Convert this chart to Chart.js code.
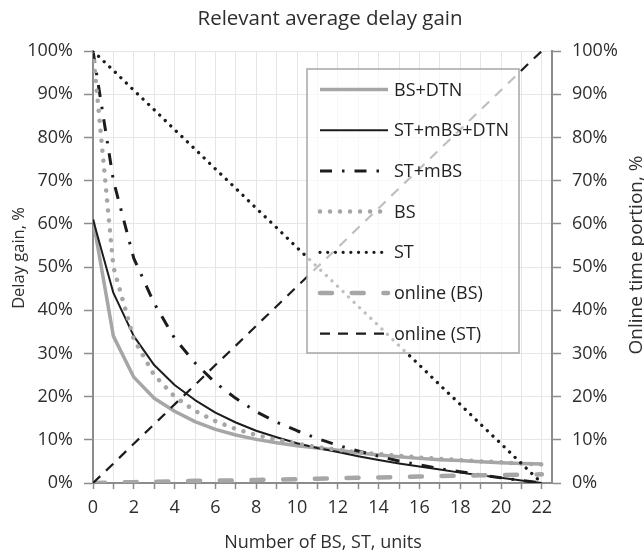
<!DOCTYPE html>
<html>
<head>
<meta charset="utf-8">
<script src="https://cdn.jsdelivr.net/npm/chart.js@4/dist/chart.umd.min.js"></script>
<style>
  html, body { margin: 0; padding: 0; background: #ffffff; }
  canvas { display: block; }
</style>
</head>
<body>
<canvas id="chart" width="644" height="556"></canvas>
<script>
// Number of base stations / stations on the horizontal axis
const units = [0, 1, 2, 3, 4, 5, 6, 7, 8, 9, 10, 11, 12, 13, 14, 15, 16, 17, 18, 19, 20, 21, 22];
const xTickLabels = ['0', '2', '4', '6', '8', '10', '12', '14', '16', '18', '20', '22'];
const yTicks = [0, 10, 20, 30, 40, 50, 60, 70, 80, 90, 100];

const seriesNames = ['BS+DTN', 'ST+mBS+DTN', 'ST+mBS', 'BS', 'ST', 'online (BS)', 'online (ST)'];

// Delay gain, %
const bsDtn    = [61, 34, 24.5, 19.6, 16.6, 14.2, 12.4, 11.1, 10.1, 9.3, 8.6, 8.1, 7.6, 7.0, 6.5, 6.1, 5.7, 5.4, 5.2, 4.9, 4.7, 4.5, 4.4];
const stMbsDtn = [61, 44, 34, 27.3, 22.7, 19.2, 16.3, 14.0, 12.1, 10.6, 9.2, 8.1, 7.2, 6.2, 5.3, 4.5, 3.8, 3.1, 2.4, 1.8, 1.2, 0.6, 0];
const stMbs    = [100, 70, 52, 41.6, 33.5, 27.8, 23.2, 19.6, 16.5, 14.1, 12.1, 10.3, 8.7, 7.4, 6.2, 5.1, 4.2, 3.3, 2.6, 1.9, 1.2, 0.6, 0];
const bs       = [100, 50, 33.3, 25, 20, 16.7, 14.3, 12.5, 11.1, 10, 9.1, 8.3, 7.7, 7.1, 6.7, 6.3, 5.9, 5.6, 5.3, 5.0, 4.8, 4.5, 4.3];
const st       = [100, 95.5, 90.9, 86.4, 81.8, 77.3, 72.7, 68.2, 63.6, 59.1, 54.5, 50, 45.5, 40.9, 36.4, 31.8, 27.3, 22.7, 18.2, 13.6, 9.1, 4.5, 0];

// Online time portion, %
const onlineBs = [0, 0.1, 0.2, 0.3, 0.4, 0.5, 0.55, 0.6, 0.7, 0.8, 0.9, 1.0, 1.1, 1.2, 1.3, 1.4, 1.5, 1.6, 1.7, 1.8, 1.85, 1.95, 2.0];
const onlineSt = [0, 4.5, 9.1, 13.6, 18.2, 22.7, 27.3, 31.8, 36.4, 40.9, 45.5, 50, 54.5, 59.1, 63.6, 68.2, 72.7, 77.3, 81.8, 86.4, 90.9, 95.5, 100];

const seriesValues = [bsDtn, stMbsDtn, stMbs, bs, st, onlineBs, onlineSt];
const rightAxisSeries = [false, false, false, false, false, true, true];

// Line styles
const GREY = '#a6a6a6';
const BLACK = '#1c1c1c';
const AXIS = '#8c8c8c';
const TEXT = '#2e2e2e';
const FONT = '"Open Sans", "DejaVu Sans", sans-serif';
const lineStyles = [
  { color: GREY,  width: 3.5, dash: [],                 cap: 'butt'  },
  { color: BLACK, width: 2,   dash: [],                 cap: 'butt'  },
  { color: BLACK, width: 3,   dash: [12, 10, 2.5, 10],  cap: 'butt'  },
  { color: GREY,  width: 4.5, dash: [0.01, 10],         cap: 'round' },
  { color: BLACK, width: 3.3, dash: [0.01, 7.7],        cap: 'round' },
  { color: GREY,  width: 4.5, dash: [12, 19.7],         cap: 'round' },
  { color: BLACK, width: 2.2, dash: [10, 8],            cap: 'butt'  }
];

const datasets = seriesValues.map((vals, i) => ({
  label: seriesNames[i],
  data: vals.map((v, j) => ({ x: units[j], y: v })),
  borderColor: lineStyles[i].color,
  borderWidth: lineStyles[i].width,
  borderDash: lineStyles[i].dash,
  borderCapStyle: lineStyles[i].cap,
  borderJoinStyle: 'round',
  pointRadius: 0,
  pointHoverRadius: 0,
  tension: 0,
  fill: false,
  yAxisID: rightAxisSeries[i] ? 'y2' : 'y',
  order: seriesValues.length - i
}));

// Legend box floating over the plot, semi-transparent white
const floatingLegend = {
  id: 'floatingLegend',
  afterDatasetsDraw(chart) {
    const ctx = chart.ctx;
    const box = { x: 307, y: 69, w: 212, h: 284 };
    ctx.save();
    ctx.fillStyle = 'rgba(255,255,255,0.72)';
    ctx.fillRect(box.x, box.y, box.w, box.h);
    ctx.strokeStyle = '#a6a6a6';
    ctx.lineWidth = 1.5;
    ctx.strokeRect(box.x, box.y, box.w, box.h);
    chart.data.datasets.forEach((ds, i) => {
      const y = 89.5 + i * 40.7;
      ctx.beginPath();
      ctx.strokeStyle = ds.borderColor;
      ctx.lineWidth = ds.borderWidth;
      ctx.lineCap = ds.borderCapStyle;
      ctx.setLineDash(ds.borderDash);
      ctx.moveTo(320, y);
      ctx.lineTo(388, y);
      ctx.stroke();
      ctx.setLineDash([]);
      ctx.fillStyle = '#222222';
      ctx.font = '18px ' + FONT;
      ctx.textAlign = 'left';
      ctx.textBaseline = 'middle';
      ctx.fillText(ds.label, 394, y + 1);
    });
    ctx.restore();
  }
};

// Chart title and axis titles
const titles = {
  id: 'titles',
  afterDraw(chart) {
    const ctx = chart.ctx;
    ctx.save();
    ctx.fillStyle = TEXT;
    ctx.textAlign = 'center';
    ctx.textBaseline = 'alphabetic';

    ctx.font = '20.5px ' + FONT;
    ctx.fillText('Relevant average delay gain', 330, 25);

    ctx.font = '18px ' + FONT;
    ctx.fillText('Number of BS, ST, units', 323, 548);

    ctx.save();
    ctx.translate(24, 258);
    ctx.rotate(-Math.PI / 2);
    ctx.font = '16.5px ' + FONT;
    ctx.fillText('Delay gain, %', 0, 0);
    ctx.restore();

    ctx.save();
    ctx.translate(642, 255);
    ctx.rotate(-Math.PI / 2);
    ctx.font = '19px ' + FONT;
    ctx.fillText('Online time portion, %', 0, 0);
    ctx.restore();

    ctx.restore();
  }
};

const percentAxis = (position, width, onChart) => ({
  type: 'linear',
  position: position,
  min: 0,
  max: 100,
  afterBuildTicks: s => { s.ticks = yTicks.map(v => ({ value: v })); },
  afterFit: s => { s.width = width; },
  ticks: {
    callback: v => v + '%',
    color: TEXT,
    font: { family: FONT, size: 18 },
    padding: 11
  },
  grid: {
    drawOnChartArea: onChart,
    color: '#e6e6e6',
    lineWidth: 1,
    tickLength: 9,
    tickColor: AXIS,
    tickWidth: 1.5
  },
  border: { color: AXIS, width: 2 }
});

new Chart(document.getElementById('chart'), {
  type: 'line',
  data: { datasets: datasets },
  options: {
    responsive: false,
    animation: false,
    devicePixelRatio: 1,
    layout: { padding: { top: 51, left: 0, right: 0, bottom: 0 } },
    plugins: {
      legend: { display: false },
      title: { display: false },
      tooltip: { enabled: false }
    },
    scales: {
      x: {
        type: 'linear',
        position: 'bottom',
        min: 0,
        max: 22.5,
        afterBuildTicks: s => { s.ticks = units.map(v => ({ value: v })); },
        afterFit: s => { s.height = 73; },
        ticks: {
          autoSkip: false,
          maxRotation: 0,
          minRotation: 0,
          callback: v => (xTickLabels.includes(String(v)) ? String(v) : ''),
          color: TEXT,
          font: { family: FONT, size: 18 },
          padding: 8
        },
        grid: {
          color: '#e6e6e6',
          lineWidth: 1,
          tickLength: 6,
          tickColor: AXIS,
          tickWidth: 1.5
        },
        border: { color: AXIS, width: 2 }
      },
      y: percentAxis('left', 93, true),
      y2: percentAxis('right', 92, false)
    }
  },
  plugins: [floatingLegend, titles]
});
</script>
</body>
</html>
